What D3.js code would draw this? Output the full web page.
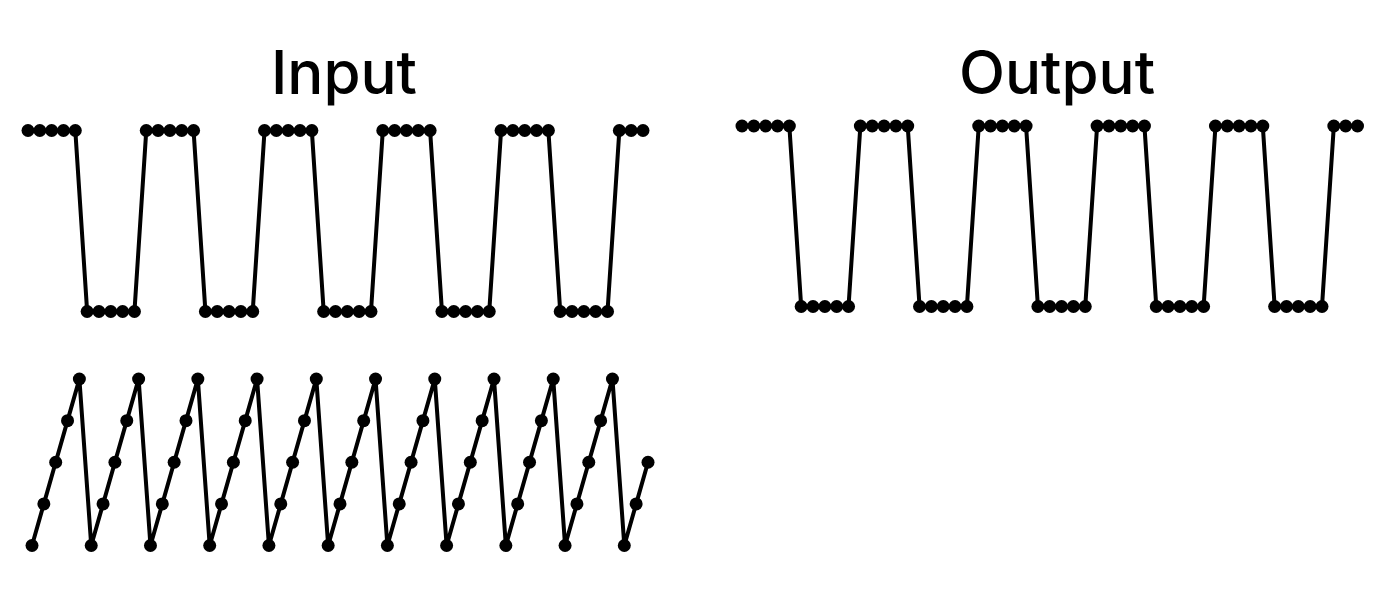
<!DOCTYPE html>
<html>
<head>
<meta charset="utf-8">
<script src="https://cdn.jsdelivr.net/npm/d3@7"></script>
<style>
  html, body { margin: 0; padding: 0; background: #fff; }
  svg { display: block; }
</style>
</head>
<body>
<svg id="chart" width="1400" height="591"></svg>
<script>
// ---- data ----
const titles = ["Input", "Output"];
const inputSquare = [1,1,1,1,1,0,0,0,0,0, 1,1,1,1,1,0,0,0,0,0, 1,1,1,1,1,0,0,0,0,0,
                     1,1,1,1,1,0,0,0,0,0, 1,1,1,1,1,0,0,0,0,0, 1,1,1];
const inputSawtooth = [0,1,2,3,4, 0,1,2,3,4, 0,1,2,3,4, 0,1,2,3,4, 0,1,2,3,4,
                       0,1,2,3,4, 0,1,2,3,4, 0,1,2,3,4, 0,1,2,3,4, 0,1,2,3,4, 0,1,2];
const outputSquare = [1,1,1,1,1,0,0,0,0,0, 1,1,1,1,1,0,0,0,0,0, 1,1,1,1,1,0,0,0,0,0,
                      1,1,1,1,1,0,0,0,0,0, 1,1,1,1,1,0,0,0,0,0, 1,1,1];

const svg = d3.select("#chart");

const panels = [
  { data: inputSquare,   x: d3.scaleLinear().domain([0, 52]).range([28, 643]),   y: d3.scaleLinear().domain([0, 1]).range([311.5, 130.5]) },
  { data: inputSawtooth, x: d3.scaleLinear().domain([0, 52]).range([32, 648]),   y: d3.scaleLinear().domain([0, 4]).range([545.5, 379]) },
  { data: outputSquare,  x: d3.scaleLinear().domain([0, 52]).range([742, 1357.5]), y: d3.scaleLinear().domain([0, 1]).range([306.5, 126]) }
];

panels.forEach(p => {
  const g = svg.append("g");
  const line = d3.line().x((d, i) => p.x(i)).y(d => p.y(d));
  g.append("path").datum(p.data)
    .attr("d", line)
    .attr("fill", "none")
    .attr("stroke", "#000")
    .attr("stroke-width", 4)
    .attr("stroke-linejoin", "round");
  g.selectAll("circle").data(p.data).join("circle")
    .attr("cx", (d, i) => p.x(i))
    .attr("cy", d => p.y(d))
    .attr("r", 6.5)
    .attr("fill", "#000");
});

const titlePos = [344, 1057];
svg.selectAll("text.title").data(titles).join("text")
  .attr("class", "title")
  .attr("x", (d, i) => titlePos[i])
  .attr("y", 94)
  .attr("text-anchor", "middle")
  .attr("font-family", "Inter, 'Liberation Sans', sans-serif")
  .attr("font-size", 60)
  .attr("font-weight", 500)
  .attr("fill", "#000")
  .text(d => d);
</script>
</body>
</html>
